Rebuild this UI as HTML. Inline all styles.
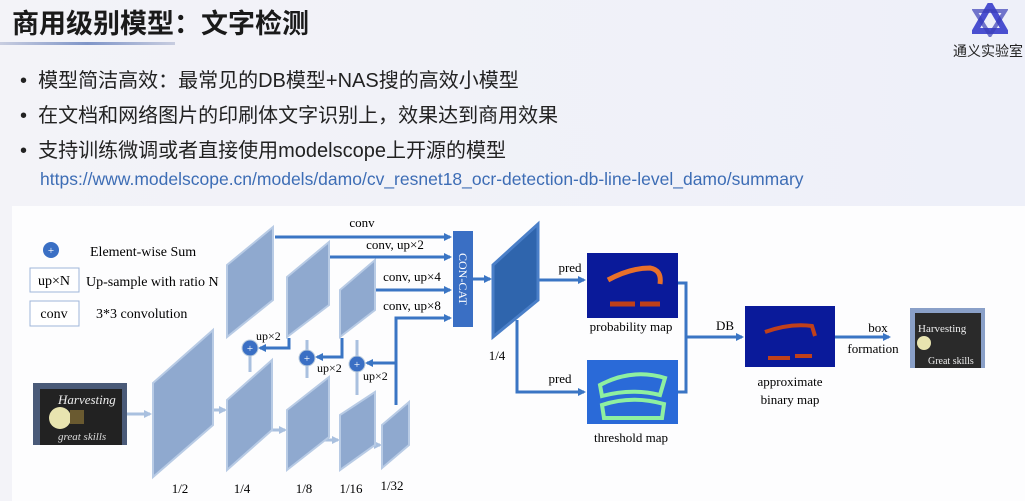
<!DOCTYPE html>
<html><head><meta charset="utf-8"><style>
html,body{margin:0;padding:0;}
body{width:1025px;height:501px;overflow:hidden;background:linear-gradient(90deg,#f3f3f8,#eef0f9);position:relative;font-family:"Liberation Sans","Noto Sans CJK SC",sans-serif;}
.t{position:absolute;white-space:nowrap;}
</style></head><body>
<div class="t" style="left:12px;top:2px;font-size:27px;font-weight:bold;color:#1a1a1a;">商用级别模型：文字检测</div>
<div style="position:absolute;left:0;top:42px;width:175px;height:3px;background:linear-gradient(90deg,#c8cde0,#7f95c8,#c8cde0);"></div>
<div class="t" style="left:953px;top:41px;font-size:14px;color:#222;">通义实验室</div>
<svg style="position:absolute;left:972px;top:3px" width="36" height="34" viewBox="0 0 36 34"><polygon points="18,2 33,28 3,28" fill="none" stroke="#4a4fd0" stroke-width="6"/><polygon points="18,32 3,8 33,8" fill="none" stroke="#3b3fb8" stroke-width="4" opacity=".7"/></svg>
<div class="t" style="left:20px;top:64px;font-size:20px;color:#222;">•&nbsp;&nbsp;模型简洁高效：最常见的DB模型+NAS搜的高效小模型</div>
<div class="t" style="left:20px;top:99px;font-size:20px;color:#222;">•&nbsp;&nbsp;在文档和网络图片的印刷体文字识别上，效果达到商用效果</div>
<div class="t" style="left:20px;top:134px;font-size:20px;color:#222;">•&nbsp;&nbsp;支持训练微调或者直接使用modelscope上开源的模型</div>
<div class="t" style="left:40px;top:169px;font-size:17.5px;color:#3d6db5;">https://www.modelscope.cn/models/damo/cv_resnet18_ocr-detection-db-line-level_damo/summary</div>
<div style="position:absolute;left:12px;top:206px;width:1013px;height:295px;background:#fdfdfe;"></div>
<svg style="position:absolute;left:0;top:0" width="1025" height="501" font-family="Liberation Serif,serif" font-size="13">
<defs>
<marker id="a" markerWidth="8" markerHeight="8" refX="6" refY="4" orient="auto" markerUnits="userSpaceOnUse"><path d="M0,0L8,4L0,8z" fill="#3a75c4"/></marker>
<marker id="b" markerWidth="8" markerHeight="8" refX="6" refY="4" orient="auto" markerUnits="userSpaceOnUse"><path d="M0,0L8,4L0,8z" fill="#a9c0df"/></marker>
</defs>
<circle cx="51" cy="250" r="8" fill="#3a6fc4"/><text x="51" y="254" fill="#fff" text-anchor="middle" font-size="11">+</text>
<text x="90" y="256" font-size="14">Element-wise Sum</text>
<rect x="30" y="268" width="49" height="24" fill="#fff" stroke="#9fb6d9"/><text x="54" y="285" text-anchor="middle" font-size="14">up×N</text>
<text x="86" y="286" font-size="14">Up-sample with ratio N</text>
<rect x="30" y="301" width="49" height="25" fill="#fff" stroke="#9fb6d9"/><text x="54" y="318" text-anchor="middle" font-size="14">conv</text>
<text x="96" y="318" font-size="14">3*3 convolution</text>
<rect x="33" y="383" width="94" height="62" fill="#4a5a78"/><rect x="40" y="389" width="82" height="56" fill="#222"/>
<circle cx="60" cy="418" r="11" fill="#e8e4b0"/><rect x="70" y="410" width="14" height="14" fill="#6a5a30"/>
<text x="58" y="404" fill="#eee" font-size="13" font-style="italic">Harvesting</text><text x="58" y="440" fill="#ddd" font-size="11" font-style="italic">great skills</text>
<g fill="#a9c0df" stroke="#a9c0df">
<path d="M127,414 H150" stroke-width="3" marker-end="url(#b)"/>
<path d="M200,410 H225" stroke-width="3" marker-end="url(#b)"/>
<path d="M260,430 H285" stroke-width="3" marker-end="url(#b)"/>
<path d="M312,440 H338" stroke-width="3" marker-end="url(#b)"/>
<path d="M362,445 H380" stroke-width="3" marker-end="url(#b)"/>
<path d="M250,372 V340" stroke-width="3"/><path d="M307,378 V340" stroke-width="3"/><path d="M357,395 V340" stroke-width="3"/>
</g>
<g fill="#8fa9cf" stroke="#b8cbe5" stroke-width="2">
<polygon points="153,383 213,330 213,425 153,477"/>
<polygon points="227,400 272,360 272,430 227,470"/>
<polygon points="227,265 273,227 273,300 227,337"/>
<polygon points="287,277 329,242 329,305 287,337"/>
<polygon points="287,410 329,377 329,437 287,470"/>
<polygon points="340,290 375,260 375,310 340,337"/>
<polygon points="340,415 375,392 375,445 340,470"/>
<polygon points="382,425 409,402 409,445 382,468"/>
</g>
<g stroke="#3a75c4" stroke-width="3" fill="none">
<path d="M275,237 H450" marker-end="url(#a)"/>
<path d="M330,257 H450" marker-end="url(#a)"/>
<path d="M376,290 H450" marker-end="url(#a)"/>
<path d="M396,405 V318 H450" marker-end="url(#a)"/>
<path d="M396,363 H367" marker-end="url(#a)"/>
<path d="M342,338 V357 H317" marker-end="url(#a)"/>
<path d="M289,338 V348 H260" marker-end="url(#a)"/>
<path d="M473,279 H490" marker-end="url(#a)"/>
<path d="M538,280 H584" marker-end="url(#a)"/>
<path d="M517,320 V392 H584" marker-end="url(#a)"/>
<path d="M678,283 H686 V392 H678"/>
<path d="M686,337 H742" marker-end="url(#a)"/>
<path d="M835,337 H889" marker-end="url(#a)"/>
</g>
<g fill="#3a6fc4" stroke="#bcd" stroke-width="1">
<circle cx="250" cy="348" r="8"/><circle cx="307" cy="358" r="8"/><circle cx="357" cy="364" r="8"/>
</g>
<g fill="#fff" font-size="11" text-anchor="middle"><text x="250" y="352">+</text><text x="307" y="362">+</text><text x="357" y="368">+</text></g>
<text x="256" y="340" font-size="12">up×2</text><text x="317" y="372" font-size="12">up×2</text><text x="363" y="380" font-size="12">up×2</text>
<text x="362" y="227" text-anchor="middle">conv</text>
<text x="395" y="249" text-anchor="middle">conv, up×2</text>
<text x="412" y="281" text-anchor="middle">conv, up×4</text>
<text x="412" y="310" text-anchor="middle">conv, up×8</text>
<rect x="453" y="231" width="20" height="96" fill="#3a6fc4"/>
<text transform="translate(459,279) rotate(90)" fill="#fff" text-anchor="middle" font-size="12">CON-CAT</text>
<polygon points="493,265 538,224 538,300 493,337" fill="#2f65ad" stroke="#4a7fc8" stroke-width="3"/>
<text x="497" y="360" text-anchor="middle">1/4</text>
<text x="570" y="272" text-anchor="middle">pred</text><text x="560" y="383" text-anchor="middle">pred</text>
<rect x="587" y="253" width="91" height="65" fill="#0a1a9a"/>
<path d="M608,280 Q630,268 650,268 Q662,270 660,284" stroke="#e8702a" stroke-width="5" fill="none"/>
<path d="M610,304 H635 M640,304 H660" stroke="#c0401a" stroke-width="5"/>
<text x="631" y="331" text-anchor="middle">probability map</text>
<rect x="587" y="360" width="91" height="64" fill="#2a6ad8"/>
<path d="M600,385 Q632,368 665,378 L660,395 Q632,388 602,396z M602,405 Q632,395 664,404 L662,418 L604,418z" stroke="#8ef0a0" stroke-width="4" fill="none"/>
<text x="631" y="442" text-anchor="middle">threshold map</text>
<text x="725" y="330" text-anchor="middle">DB</text>
<rect x="745" y="306" width="90" height="61" fill="#0a1a9a"/>
<path d="M765,332 Q790,323 812,326 L815,336" stroke="#c0401a" stroke-width="4" fill="none"/>
<path d="M768,358 H790 M795,356 H812" stroke="#c0401a" stroke-width="4"/>
<text x="790" y="386" text-anchor="middle">approximate</text><text x="790" y="404" text-anchor="middle">binary map</text>
<text x="878" y="332" text-anchor="middle">box</text><text x="873" y="353" text-anchor="middle">formation</text>
<rect x="910" y="308" width="75" height="60" fill="#8aa0c8"/><rect x="915" y="313" width="66" height="55" fill="#2a2a2a"/>
<circle cx="924" cy="343" r="7" fill="#e8e4b0"/>
<text x="918" y="332" fill="#eee" font-size="11">Harvesting</text><text x="928" y="364" fill="#eee" font-size="10">Great skills</text>
<text x="180" y="493" text-anchor="middle">1/2</text><text x="242" y="493" text-anchor="middle">1/4</text>
<text x="304" y="493" text-anchor="middle">1/8</text><text x="351" y="493" text-anchor="middle">1/16</text>
<text x="392" y="490" text-anchor="middle">1/32</text>
</svg>
</body></html>
